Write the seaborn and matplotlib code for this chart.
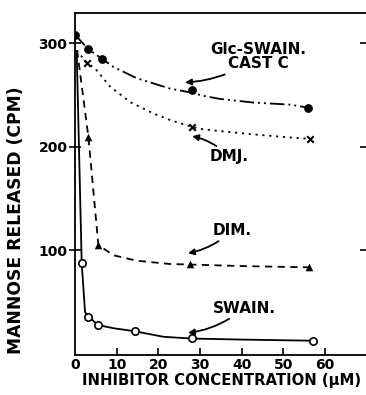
import matplotlib
matplotlib.use("Agg")
import matplotlib.pyplot as plt
import seaborn as sns

glc_x = [0, 3.2, 6.4, 28, 56]
glc_y = [308, 294, 285, 255, 237.5]
dmj_x = [2.8, 28, 56.4]
dmj_y = [281, 219, 207.5]
dim_x = [3.2, 5.6, 27.6, 56.2]
dim_y = [209.5, 104.8, 86.5, 83.3]
sw_x = [1.6, 3.2, 5.6, 14.4, 28, 57]
sw_y = [87.7, 35.6, 27.5, 22, 14.7, 12.4]

# Hand-drawn fitted curves
glc_curve_x = [0, 3.2, 6.4, 9.2, 14.8, 22.8, 28, 30.8, 34.8, 42.8, 51.6, 56]
glc_curve_y = [308, 294, 285, 277, 266, 256, 252, 249, 246, 242.5, 240.5, 237.5]
dmj_curve_x = [0.4, 2.8, 4.8, 8.4, 13.2, 18.8, 22.8, 28, 30.8, 42, 54, 56.4]
dmj_curve_y = [293, 281, 275.5, 258, 243, 232, 225.6, 219, 216.6, 212, 208, 207.5]
dim_curve_x = [0.5, 3.2, 5.6, 9.2, 14.8, 22.8, 27.6, 40, 56.2]
dim_curve_y = [293, 209.5, 104.8, 95, 89.7, 86.5, 86, 84.5, 83.3]
sw_curve_x = [0.4, 1.6, 2.4, 3.2, 5.6, 9.2, 14.4, 21.2, 28, 40, 57]
sw_curve_y = [292, 87.7, 40, 35.6, 27.5, 24.5, 21.5, 16.2, 14.5, 13.5, 12.4]

x_ticks = [0, 10, 20, 30, 40, 50, 60]
y_ticks = [100, 200, 300]

sns.set_style("ticks")
plt.rcParams['font.family'] = ['DejaVu Sans']
plt.rcParams['font.weight'] = 'bold'
for k in ['text.color', 'axes.labelcolor', 'xtick.color', 'ytick.color', 'axes.edgecolor']:
    plt.rcParams[k] = 'black'

fig = plt.figure(figsize=(3.66, 3.95), dpi=100)
ax = fig.add_axes([0.205, 0.101, 0.795, 0.866])

lw = 1.3
# curves
sns.lineplot(x=glc_curve_x, y=glc_curve_y, ax=ax, color='black', lw=lw, sort=False, estimator=None)
ax.lines[-1].set_dashes([8, 2.2, 1.1, 2.2, 1.1, 2.2])
sns.lineplot(x=dmj_curve_x, y=dmj_curve_y, ax=ax, color='black', lw=lw, sort=False, estimator=None)
ax.lines[-1].set_dashes([1.2, 2.6])
sns.lineplot(x=dim_curve_x, y=dim_curve_y, ax=ax, color='black', lw=lw, sort=False, estimator=None)
ax.lines[-1].set_dashes([4, 3])
sns.lineplot(x=sw_curve_x, y=sw_curve_y, ax=ax, color='black', lw=lw, sort=False, estimator=None)

# points
sns.scatterplot(x=glc_x, y=glc_y, ax=ax, color='black', marker='o', s=40, linewidth=0, zorder=5)
sns.scatterplot(x=dmj_x, y=dmj_y, ax=ax, color='black', marker='x', s=22, linewidth=1.5, zorder=5)
sns.scatterplot(x=dim_x, y=dim_y, ax=ax, color='black', marker='^', s=30, linewidth=0, zorder=5)
sns.scatterplot(x=sw_x, y=sw_y, ax=ax, facecolor='white', edgecolor='black', marker='o', s=28,
                linewidth=1.2, zorder=5)

ax.set_xlim(0, 69.8)
ax.set_ylim(-1.5, 329)
ax.set_xticks(x_ticks)
ax.set_yticks(y_ticks)
ax.tick_params(axis='x', direction='in', length=5, width=1.2, labelsize=10, pad=2)
ax.tick_params(axis='y', direction='inout', length=9, width=1.2, labelsize=10, pad=1,
               right=True, labelright=False)
for lab in ax.get_xticklabels() + ax.get_yticklabels():
    lab.set_fontweight('bold')
ax.spines['right'].set_visible(False)
for s in ['left', 'bottom', 'top']:
    ax.spines[s].set_linewidth(1.3)
ax.xaxis.get_major_ticks()[0].tick1line.set_visible(False)

ax.set_xlabel('INHIBITOR CONCENTRATION (μM)', fontsize=10.7, fontweight='bold')
ax.xaxis.set_label_coords(0.505, -0.052)
ax.set_ylabel('MANNOSE RELEASED (CPM)', fontsize=12.3, fontweight='bold')
ax.yaxis.set_label_coords(-0.172, 0.395)

ap = dict(arrowstyle='-|>', color='black', lw=1.3, mutation_scale=9,
          connectionstyle='arc3,rad=-0.15', shrinkA=0, shrinkB=0)
kw = dict(fontsize=11, fontweight='bold', va='center')
ax.annotate('Glc-SWAIN.\nCAST C', xy=(26.4, 262), xytext=(32.4, 287), arrowprops=ap,
            linespacing=0.95, ha='left', multialignment='center', **kw)
ax.annotate('DMJ.', xy=(28.1, 210), xytext=(32.4, 190), ha='left',
            arrowprops=dict(ap, connectionstyle='arc3,rad=0.15'), **kw)
ax.annotate('DIM.', xy=(27.1, 97), xytext=(33.0, 119), ha='left', arrowprops=ap, **kw)
ax.annotate('SWAIN.', xy=(27.1, 20), xytext=(33.0, 44), ha='left', arrowprops=ap, **kw)

fig.savefig('out.png', dpi=100)
